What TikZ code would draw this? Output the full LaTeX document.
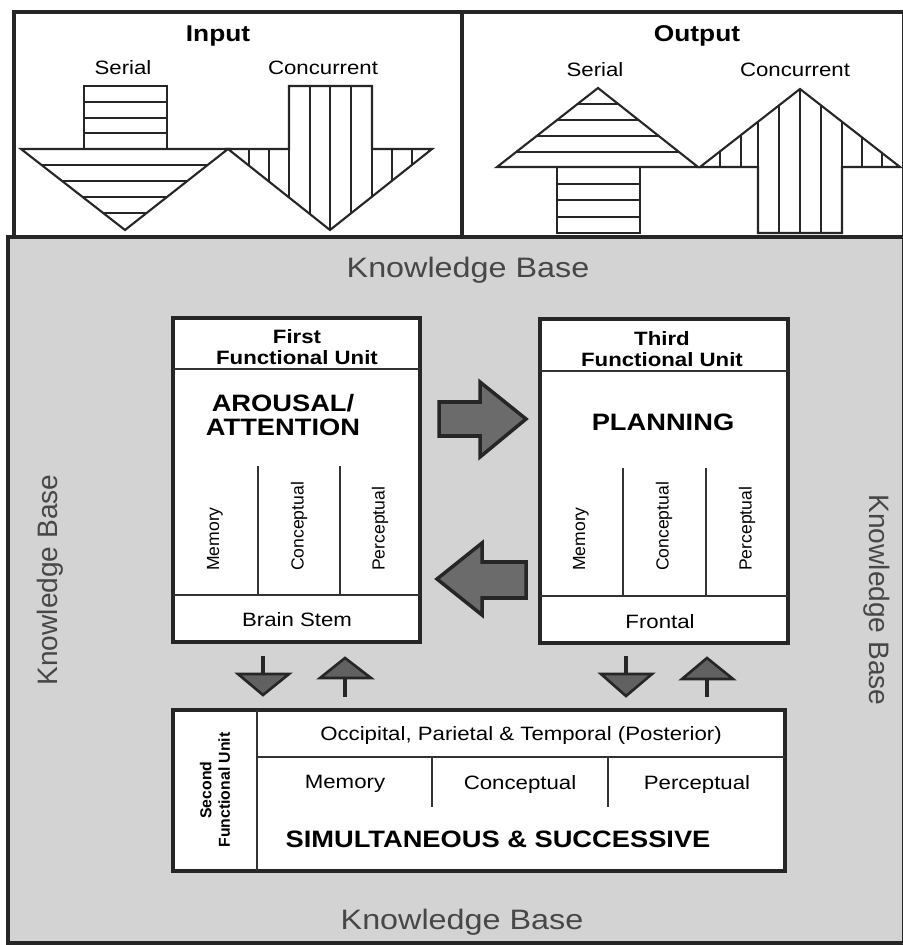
\documentclass[tikz,border=0pt]{standalone}
\usepackage{fontspec}
\setmainfont{Liberation Sans}[FakeStretch=1.15]
\newfontfamily\uprightfont{Liberation Sans}

\definecolor{kbgray}{HTML}{D3D3D3}

\tikzset{
  panelline/.style={line width=1.8pt, draw=black!85},
  unitbox/.style={line width=2.2pt, draw=black!85, fill=white},
  divline/.style={line width=1.3pt, draw=black!80},
  hatch/.style={line width=1.2pt, draw=black!85},
  blockarrow/.style={line width=2pt, draw=black!85, fill=black!58},
  smallarrow/.style={line width=1.5pt, draw=black!85, fill=black!62},
  titletext/.style={font=\bfseries\fontsize{13}{14}\selectfont},
  plaintext/.style={font=\fontsize{11}{12}\selectfont},
  headtext/.style={font=\bfseries\fontsize{11}{11.5}\selectfont, align=center},
  bigtext/.style={font=\bfseries\fontsize{13.5}{13.6}\selectfont, align=center},
  coltext/.style={font=\uprightfont\fontsize{10}{12}\selectfont, rotate=90, anchor=west},
  kbtext/.style={text=black!72, font=\fontsize{16}{18}\selectfont},
  kbside/.style={text=black!72, font=\uprightfont\fontsize{16}{18}\selectfont}
}

\begin{document}
\begin{tikzpicture}[x=0.02cm, y=-0.02cm]
\useasboundingbox (0,0) rectangle (902,945);
\fill[white] (0,0) rectangle (902,945);

\filldraw[panelline, fill=kbgray] (8,237) rectangle (904,943);
\draw[panelline] (14,12) rectangle (904,237);
\draw[panelline] (462,12) -- (462,237);

\node at (218,36) [titletext] (inputtitle) {Input};
\node at (697,36) [titletext] (outputtitle) {Output};
\node at (123,68) [plaintext] (inserial) {Serial};
\node at (323,68) [plaintext] (inconc) {Concurrent};
\node at (595,70) [plaintext] (outserial) {Serial};
\node at (795,70) [plaintext] (outconc) {Concurrent};

\begin{scope}
\clip (21,149) -- (228,149) -- (125,230) -- cycle;
\foreach \y in {165,181,197,213} \draw[hatch] (0,\y) -- (460,\y);
\end{scope}
\draw[hatch, line join=miter] (21,149) -- (228,149) -- (125,230) -- cycle;
\draw[hatch] (84,86) rectangle (167,149);
\foreach \y in {102,118,133} \draw[hatch] (84,\y) -- (167,\y);

\begin{scope}
\clip (289,86) -- (372,86) -- (372,149) -- (432,149) -- (330,230) -- (228,149) -- (289,149) -- cycle;
\foreach \x in {249,269,289,310,330,351,372,392,412} \draw[hatch] (\x,80) -- (\x,240);
\end{scope}
\draw[hatch] (289,86) -- (372,86) -- (372,149) -- (432,149) -- (330,230) -- (228,149) -- (289,149) -- cycle;

\begin{scope}
\clip (497,167) -- (698,167) -- (598,88) -- cycle;
\foreach \y in {104,120,136,152} \draw[hatch] (470,\y) -- (720,\y);
\end{scope}
\draw[hatch] (497,167) -- (698,167) -- (598,88) -- cycle;
\draw[hatch] (557,167) rectangle (640,233);
\foreach \y in {184,200,217} \draw[hatch] (557,\y) -- (640,\y);

\begin{scope}
\clip (700,167) -- (800,89) -- (900,167) -- (842,167) -- (842,233) -- (758,233) -- (758,167) -- cycle;
\foreach \x in {720,741,758,779,800,821,842,862,882} \draw[hatch] (\x,80) -- (\x,240);
\end{scope}
\draw[hatch] (700,167) -- (800,89) -- (900,167) -- (842,167) -- (842,233) -- (758,233) -- (758,167) -- cycle;

\node at (468,270) [kbtext] (kbtop) {Knowledge Base};
\node at (462,922) [kbtext] (kbbottom) {Knowledge Base};
\node at (50,580) [kbside, rotate=90] (kbleft) {Knowledge Base};
\node at (877,600) [kbside, rotate=-90] (kbright) {Knowledge Base};

\draw[unitbox] (173,318) rectangle (420,642);
\draw[divline] (173,369) -- (420,369);
\draw[divline] (173,595) -- (420,595);
\draw[divline] (258,466) -- (258,595);
\draw[divline] (340,466) -- (340,595);
\node at (297,347) [headtext] (firsthead) {First\\Functional Unit};
\node at (283,415) [bigtext] (arousal) {AROUSAL/\\ATTENTION};
\node at (215,577) [coltext] (firstmem) {Memory};
\node at (299,577) [coltext] (firstcon) {Conceptual};
\node at (380,577) [coltext] (firstper) {Perceptual};
\node at (297,620) [plaintext] (brainstem) {Brain Stem};

\draw[unitbox] (540,319) rectangle (788,643);
\draw[divline] (540,371) -- (788,371);
\draw[divline] (540,596) -- (788,596);
\draw[divline] (623,468) -- (623,596);
\draw[divline] (706,468) -- (706,596);
\node at (662,349) [headtext] (thirdhead) {Third\\Functional Unit};
\node at (663,422) [bigtext] (planning) {PLANNING};
\node at (581,577) [coltext] (thirdmem) {Memory};
\node at (664,577) [coltext] (thirdcon) {Conceptual};
\node at (747,577) [coltext] (thirdper) {Perceptual};
\node at (660,622) [plaintext] (frontal) {Frontal};

\draw[blockarrow] (439,402) -- (480,402) -- (480,382) -- (526,419) -- (480,457) -- (480,436) -- (439,436) -- cycle;
\draw[blockarrow] (526,562) -- (482,562) -- (482,543) -- (437,579) -- (482,615) -- (482,598) -- (526,598) -- cycle;

\draw[line width=2.5pt, draw=black!85] (263,656) -- (263,674);
\filldraw[smallarrow] (238,674) -- (289,674) -- (263,695) -- cycle;
\draw[line width=2.5pt, draw=black!85] (345,678) -- (345,697);
\filldraw[smallarrow] (320,678) -- (371,678) -- (345,658) -- cycle;
\draw[line width=2.5pt, draw=black!85] (626,656) -- (626,674);
\filldraw[smallarrow] (601,674) -- (652,674) -- (626,696) -- cycle;
\draw[line width=2.5pt, draw=black!85] (707,679) -- (707,697);
\filldraw[smallarrow] (682,679) -- (733,679) -- (707,658) -- cycle;

\draw[unitbox] (173,710) rectangle (785,871);
\draw[divline] (257,710) -- (257,871);
\draw[divline] (257,757) -- (785,757);
\draw[divline] (432,757) -- (432,807);
\draw[divline] (608,757) -- (608,807);
\node at (215,790) [font=\uprightfont\bfseries\fontsize{9}{10.5}\selectfont, rotate=90, align=center] (secondhead) {Second\\Functional Unit};
\node at (521,735) [plaintext] (posterior) {Occipital, Parietal \& Temporal (Posterior)};
\node at (345,784) [plaintext] (secondmem) {Memory};
\node at (520,784) [plaintext] (secondcon) {Conceptual};
\node at (697,784) [plaintext] (secondper) {Perceptual};
\node at (498,839) [bigtext] (simsucc) {SIMULTANEOUS \& SUCCESSIVE};
\end{tikzpicture}
\end{document}
